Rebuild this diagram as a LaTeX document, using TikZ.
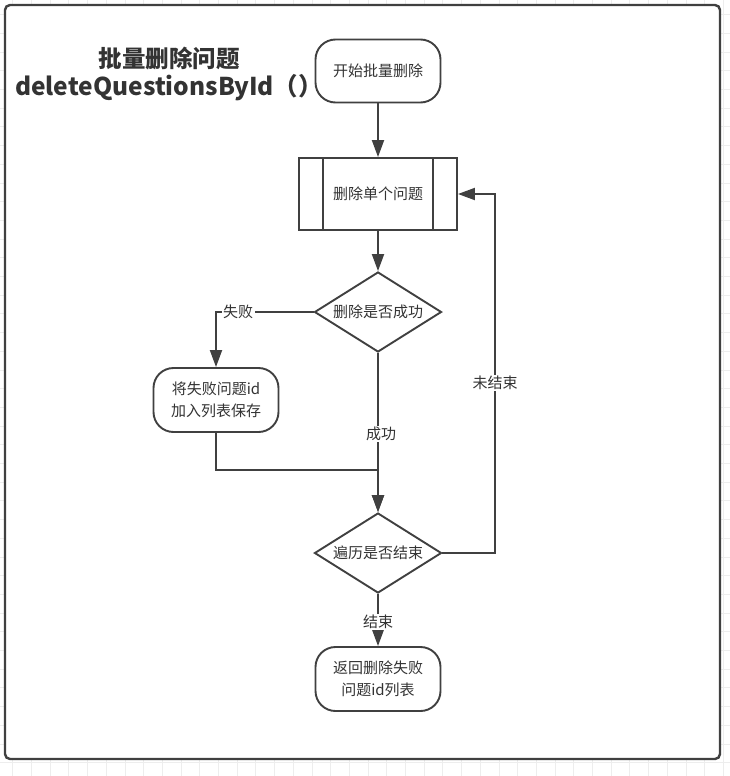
\documentclass[tikz,border=0pt]{standalone}
\usepackage{fontspec}
\setmainfont{Noto Sans CJK SC}
\usetikzlibrary{arrows.meta,shapes.geometric,positioning}

\definecolor{linegray}{HTML}{404040}
\definecolor{textgray}{HTML}{333333}
\definecolor{gridgray}{HTML}{EDEDED}

\tikzset{
  flowline/.style={draw=linegray,line width=1.9pt},
  arrowline/.style={flowline,-{Triangle[length=17pt,width=12pt]}},
  flowfont/.style={font=\fontsize{15}{22}\selectfont},
  termbox/.style={draw=linegray,line width=1.9pt,fill=white,text=textgray,
    rounded corners=20pt,align=center,inner sep=0pt,flowfont,
    minimum width=125pt,minimum height=64pt},
  procbox/.style={draw=linegray,line width=1.9pt,fill=white,text=textgray,
    inner sep=0pt,flowfont,minimum width=158pt,minimum height=72pt},
  decbox/.style={diamond,aspect=1.58,draw=linegray,line width=1.9pt,fill=white,
    text=textgray,inner sep=0pt,flowfont,minimum width=127pt,minimum height=80pt},
  lbl/.style={fill=white,text=textgray,inner sep=1.5pt,flowfont}
}

\begin{document}
\begin{tikzpicture}[x=1pt,y=-1pt]
  % page size, 730x776
  \useasboundingbox (0,0) rectangle (730,776);

  % background grid
  \foreach \gx in {12.7,31.4,...,730} \draw[gridgray,line width=0.8pt] (\gx,0) -- (\gx,776);
  \foreach \gy in {14.6,33.3,...,776} \draw[gridgray,line width=0.8pt] (0,\gy) -- (730,\gy);

  % outer frame
  \draw[draw=linegray,line width=2.4pt,fill=white,rounded corners=5pt] (5,5) rectangle (720,759);

  % title
  \node[text=textgray,align=center,font=\bfseries] (title) at (169,74)
    {{\fontsize{23.5}{30}\selectfont 批量删除问题}\\[3pt]
     {\fontsize{24.5}{30}\selectfont deleteQuestionsById（）}};

  % flowchart nodes
  \node[termbox,minimum height=63pt] (start) at (378,71) {开始批量删除};
  \node[procbox] (proc) at (378,194) {删除单个问题};
  \node[decbox] (chk) at (378,312) {删除是否成功};
  \node[termbox] (fail) at (216,400) {将失败问题id\\加入列表保存};
  \node[decbox] (done) at (378,553) {遍历是否结束};
  \node[termbox] (stop) at (378,679) {返回删除失败\\问题id列表};

  % inner bars of the process box
  \draw[flowline] ([xshift=25pt]proc.north west) -- ([xshift=25pt]proc.south west);
  \draw[flowline] ([xshift=-25pt]proc.north east) -- ([xshift=-25pt]proc.south east);

  % corner points of the bent connectors
  \coordinate (failturn) at (216,312);
  \coordinate (mergeA) at (216,470);
  \coordinate (mergeB) at (378,470);
  \coordinate (loopA) at (495,553);
  \coordinate (loopB) at (495,194);

  % connectors
  \draw[arrowline] (start) -- (proc);
  \draw[arrowline] (proc) -- (chk);
  \draw[arrowline] (chk.west) -- (failturn) -- (fail.north);
  \draw[arrowline] (fail.south) -- (mergeA) -- (mergeB) -- (done.north);
  \draw[arrowline] (chk.south) -- (done.north);
  \draw[arrowline] (done.east) -- (loopA) -- (loopB) -- (proc.east);
  \draw[arrowline] (done.south) -- (stop.north);

  % connector labels
  \node[lbl] (lfail) at (238,312) {失败};
  \node[lbl] (lok) at (381,434) {成功};
  \node[lbl] (lmore) at (495,383) {未结束};
  \node[lbl] (lend) at (378,622) {结束};
\end{tikzpicture}
\end{document}
